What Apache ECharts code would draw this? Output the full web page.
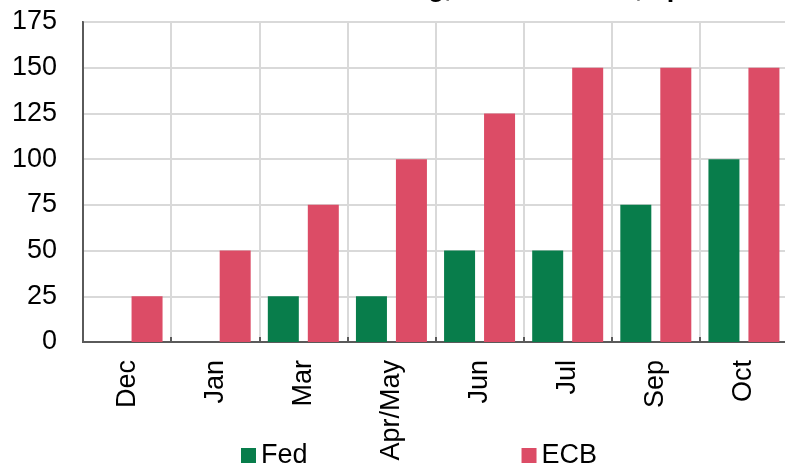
<!DOCTYPE html>
<html>
<head>
<meta charset="utf-8">
<script src="https://cdn.jsdelivr.net/npm/echarts@6/dist/echarts.min.js"></script>
<style>
  html, body { margin: 0; padding: 0; background: #fff; }
  #chart { width: 785px; height: 467px; }
</style>
</head>
<body>
<div id="chart"></div>
<script>
// data (bp)
const categories = ['Dec', 'Jan', 'Mar', 'Apr/May', 'Jun', 'Jul', 'Sep', 'Oct']
const fedValues = [0, 0, 25, 25, 50, 50, 75, 100]
const ecbValues = [25, 50, 75, 100, 125, 150, 150, 150]
const yTicks = [0, 25, 50, 75, 100, 125, 150, 175]

const font = 'Liberation Sans, Arial, sans-serif'
const chart = echarts.init(document.getElementById('chart'))

const options = {
  animation: false,
  // title is clipped by the top of the picture, only descenders show
  title: {
    text: 'Cumulative rate hiking, market-based, bp',
    left: 155,
    top: -25,
    padding: 0,
    textStyle: { fontFamily: font, fontSize: 27, fontWeight: 'bold', color: '#000' }
  },
  grid: {
    left: 83,
    top: 22,
    right: -3,
    bottom: 125,
    outerBoundsMode: 'none',
    show: true,
    borderColor: '#5a5a5a',
    borderWidth: 2
  },
  legend: {
    left: 236,
    top: 437,
    itemGap: 214,
    itemWidth: 15,
    itemHeight: 15,
    icon: 'rect',
    textStyle: { fontFamily: font, fontSize: 27, color: '#000' }
  },
  xAxis: {
    type: 'category',
    data: categories,
    axisLine: { lineStyle: { color: '#5a5a5a', width: 2 } },
    axisTick: { show: true, inside: true, length: 5, lineStyle: { color: '#5a5a5a', width: 2 } },
    splitLine: { show: true, interval: 0, lineStyle: { color: '#d9d9d9', width: 2 } },
    axisLabel: {
      interval: 0,
      rotate: 90,
      margin: 18,
      fontFamily: font,
      fontSize: 27,
      color: '#000'
    }
  },
  yAxis: {
    type: 'value',
    min: yTicks[0],
    max: yTicks[yTicks.length - 1],
    interval: 25,
    axisLine: { show: true, lineStyle: { color: '#5a5a5a', width: 2 } },
    axisTick: { show: false },
    splitLine: { lineStyle: { color: '#d9d9d9', width: 2 } },
    axisLabel: { margin: 26, fontFamily: font, fontSize: 27, color: '#000' }
  },
  series: [
    {
      name: 'Fed',
      type: 'bar',
      data: fedValues,
      barWidth: 31,
      barGap: '29%',
      itemStyle: { color: '#087d4b' }
    },
    {
      name: 'ECB',
      type: 'bar',
      data: ecbValues,
      barWidth: 31,
      itemStyle: { color: '#dc4c66' }
    }
  ]
}
chart.setOption(options)
</script>
</body>
</html>
